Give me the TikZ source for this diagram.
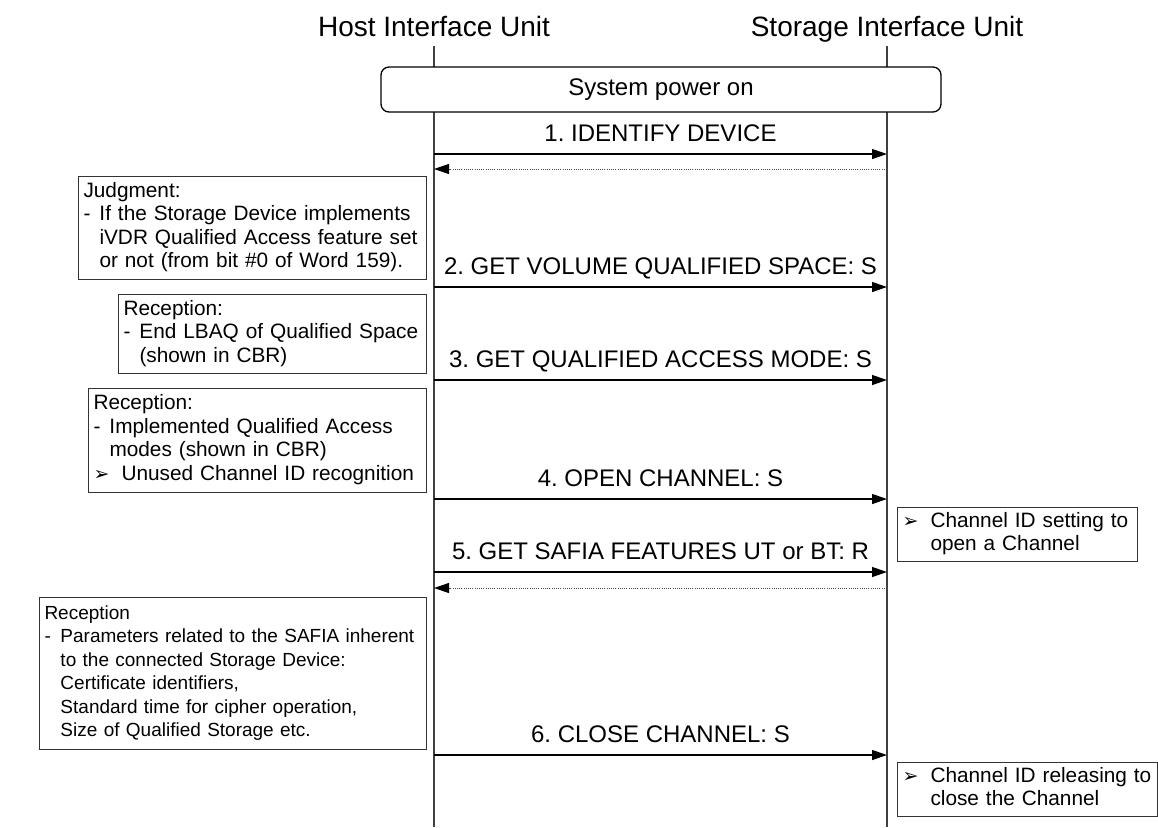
\documentclass[tikz,border=0pt]{standalone}
\usepackage{fontspec}
\setmainfont{Liberation Sans}
\newfontfamily\symfont{DejaVu Sans}
\usepackage{tikz}
\usetikzlibrary{arrows.meta}
\usepackage{xcolor}

\newcommand\titlefont{\fontsize{14}{16.8}\selectfont}
\newcommand\msgfont{\fontsize{12}{14.4}\selectfont}
\newcommand\notefont{\fontsize{10.4}{11.75}\selectfont}
\newcommand\smallnotefont{\fontsize{9.5}{11.75}\selectfont}
\newcommand\notelines[1]{\begin{tabular}{@{}l@{}}#1\end{tabular}}
\newcommand\dashit{\makebox[8pt][l]{-}}
\newcommand\hangit{\hspace*{8pt}}
\newcommand\arrowit{\makebox[14pt][l]{{\symfont\fontsize{9.5}{9.5}\selectfont ➢}}}
\newcommand\hangarr{\hspace*{14pt}}

\tikzset{
  life/.style={line width=0.75pt, black!75},
  msg/.style={line width=0.65pt, -{Triangle[length=7.5pt,width=5pt]}},
  resp/.style={line width=0.5pt, black!70, dash pattern=on 0.5pt off 0.6pt,
    -{Triangle[length=7.5pt,width=5pt,color=black]}},
  lbl/.style={above=5.75pt, inner sep=0pt, text depth=0pt, font=\msgfont},
  note/.style={draw=black!80, line width=0.5pt, fill=white, anchor=north west,
    align=left, inner xsep=2.5pt, inner ysep=0pt, font=\notefont},
}

\begin{document}
\frenchspacing
\begin{tikzpicture}[x=0.5pt, y=-0.5pt]
        \useasboundingbox (0,0) rectangle (1158,827);
        \node[font=\titlefont, anchor=base] (host) at (434,36) {Host Interface Unit};
        \node[font=\titlefont, anchor=base] (stor) at (887,36) {Storage Interface Unit};
        \coordinate (hTop) at (434,46);
        \coordinate (hBot) at (434,827);
        \coordinate (sTop) at (887,46);
        \coordinate (sBot) at (887,827);
        \draw[life] (hTop) -- (hBot); % linea de vida host
        \draw[life] (sTop) -- (sBot); % linea de vida storage
        \node[draw, line width=0.65pt, rounded corners=4pt, fill=white, minimum width=280pt,
              minimum height=22.5pt, font=\msgfont] (power) at (661,89.5) {System power on};
        \foreach \i/\y/\txt in {1/154/{1. IDENTIFY DEVICE},
                                2/287/{2. GET VOLUME QUALIFIED SPACE: S},
                                3/380/{3. GET QUALIFIED ACCESS MODE: S},
                                4/499/{4. OPEN CHANNEL: S},
                                5/572/{5. GET SAFIA FEATURES UT or BT: R},
                                6/755/{6. CLOSE CHANNEL: S}}
        {
        \coordinate (h\i) at (434,\y);
        \coordinate (s\i) at (887,\y);
        \draw[msg] (h\i) -- node[lbl] {\txt} (s\i);
        }
        \foreach \i/\y in {1/169, 5/588}
        {
        \coordinate (hr\i) at (434,\y);
        \coordinate (sr\i) at (887,\y);
        \draw[resp] (sr\i) -- (hr\i); % respuesta
        }
        \node[note, text width=169pt, minimum height=51.5pt] (judge) at (78,176)
          {\notelines{Judgment:\\ \dashit If the Storage Device implements\\
           \hangit iVDR Qualified Access feature set\\
           \hangit or not (from bit \#0 of Word 159).}};
        \node[note, text width=149pt, minimum height=39.5pt] (recspace) at (118,294)
          {\notelines{Reception:\\ \dashit End LBAQ of Qualified Space\\ \hangit (shown in CBR)}};
        \node[note, text width=164pt, minimum height=52pt] (recmode) at (88,388)
          {\notelines{Reception:\\ \dashit Implemented Qualified Access\\ \hangit modes (shown in CBR)\\
           \arrowit Unused Channel ID recognition}};
        \node[note, font=\smallnotefont, text width=188.5pt, minimum height=76pt] (recsafia) at (39,597)
          {\notelines{Reception\\ \dashit Parameters related to the SAFIA inherent\\
           \hangit to the connected Storage Device:\\ \hangit Certificate identifiers,\\
           \hangit Standard time for cipher operation,\\ \hangit Size of Qualified Storage etc.}};
        \node[note, text width=115pt, minimum height=27pt] (chopen) at (897,507)
          {\notelines{\arrowit Channel ID setting to\\ \hangarr open a Channel}};
        \node[note, text width=125pt, minimum height=27pt] (chclose) at (897,762)
          {\notelines{\arrowit Channel ID releasing to\\ \hangarr close the Channel}};
        \end{tikzpicture}
\end{document}
